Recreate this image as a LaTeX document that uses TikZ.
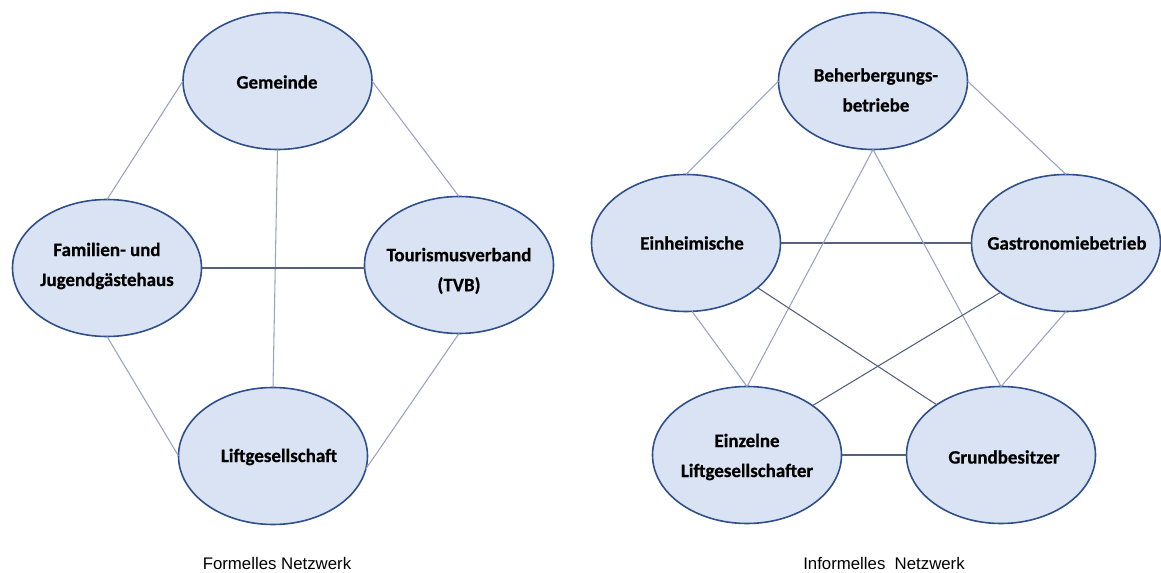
\documentclass[tikz,border=0pt]{standalone}
\usepackage{fontspec}
\setmainfont{Carlito}[BoldFeatures={FakeBold=0.6}]
\newfontfamily\capfont{Liberation Sans}
\usetikzlibrary{shapes.geometric}

\definecolor{blobfill}{HTML}{DAE3F3}
\definecolor{blobline}{HTML}{2F4F8A}
\definecolor{linklight}{HTML}{9AA2C4}
\definecolor{linkdark}{HTML}{55607E}

\tikzset{
  blob/.style={ellipse, draw=blobline, line width=1.2pt, fill=blobfill,
    minimum width=141.75pt, minimum height=102.75pt, inner sep=0pt, outer sep=0pt},
  txt/.style={font=\bfseries\fontsize{14.2}{22.5}\selectfont, align=center, inner sep=0pt},
  caption/.style={font=\capfont\fontsize{12.6}{15}\selectfont, inner sep=0pt},
  link/.style={draw=linklight, line width=0.8pt},
  linkd/.style={draw=linkdark, line width=0.8pt}
}

\begin{document}
\begin{tikzpicture}[x=0.75pt, y=-0.75pt]
  \useasboundingbox (0,0) rectangle (1161,573);

  % ---------- formal network ----------
  \node[blob] (gem) at (277.5,81) {};
  \node[blob] (fam) at (107,268) {};
  \node[blob] (tvb) at (459,265) {};
  \node[blob] (lift) at (273,456) {};

  \node[txt] (gemT) at (277,82) {Gemeinde};
  \node[txt] (famT) at (107,266) {Familien- und\\Jugendgästehaus};
  \node[txt] (tvbT) at (459,271) {Tourismusverband\\(TVB)};
  \node[txt] (liftT) at (279,457) {Liftgesellschaft};

  \draw[link] (gem.west) -- (fam.north);
  \draw[link] (gem.east) -- (tvb.north);
  \draw[link] (gem.south) -- (lift.north);
  \draw[linkd] (fam.east) -- (fam.east -| tvb.west);
  \draw[link] (fam.south) -- (lift.west);
  \draw[link] (tvb.south) -- (lift.-8);

  % ---------- informal network ----------
  \node[blob] (beh) at (873,81) {};
  \node[blob] (ein) at (686,243) {};
  \node[blob] (gas) at (1066,243) {};
  \node[blob] (eli) at (747,455) {};
  \node[blob] (gru) at (1001,455) {};

  \node[txt] (behT) at (876,90) {Beherbergungs-\\betriebe};
  \node[txt] (einT) at (692,243) {Einheimische};
  \node[txt] (gasT) at (1067,243) {Gastronomiebetrieb};
  \node[txt] (eliT) at (747,457) {Einzelne\\Liftgesellschafter};
  \node[txt] (gruT) at (1004,457) {Grundbesitzer};

  \draw[link] (beh.west) -- (ein.north);
  \draw[link] (beh.east) -- (gas.north);
  \draw[linkd] (ein.east) -- (gas.west);
  \draw[link] (beh.south) -- (eli.north);
  \draw[link] (beh.south) -- (gru.north);
  \draw[link] (ein.-85) -- (eli.north);
  \draw[linkd] (ein.-32) -- (gru.142);
  \draw[linkd] (gas.217) -- (eli.37);
  \draw[link] (gas.south) -- (gru.north);
  \draw[linkd] (eli.east) -- (gru.west);

  % ---------- captions ----------
  \node[caption] (capF) at (277,563) {Formelles Netzwerk};
  \node[caption] (capI) at (884,563) {Informelles\ \ Netzwerk};
\end{tikzpicture}
\end{document}
